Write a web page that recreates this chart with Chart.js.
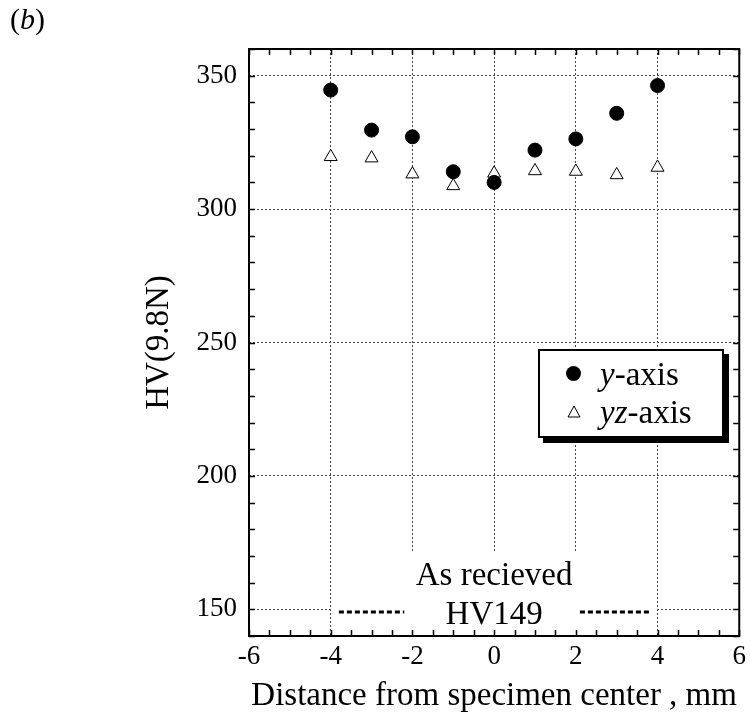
<!DOCTYPE html>
<html>
  <head>
    <meta charset="UTF-8" />
    <title>HV profile (b)</title>
    <style>
      body {
        margin: 0;
        padding: 0;
        background-color: #fff;
        font-family: "Liberation Serif", "Times New Roman", serif;
      }
      .wrap {
        position: relative;
        width: 751px;
        height: 716px;
      }
      .panel-label {
        position: absolute;
        left: 10px;
        top: 2px;
        font-size: 30px;
      }
      .legend {
        position: absolute;
        left: 538px;
        top: 349px;
        width: 182px;
        height: 85px;
        border: 2px solid #000;
        background: #fff;
        box-shadow: 5px 5px 0 #000;
        font-size: 33px;
      }
      .legend-row {
        position: absolute;
        left: 0;
        height: 38px;
        line-height: 38px;
      }
      .legend-row span.txt {
        position: absolute;
        left: 60px;
        white-space: nowrap;
      }
      .dot {
        position: absolute;
        left: 26px;
        top: 11px;
        width: 15px;
        height: 15px;
        border-radius: 50%;
        background: #000;
      }
      .tri {
        position: absolute;
        left: 27px;
        top: 12px;
      }
    </style>
  </head>
  <body>
    <div class="wrap">
      <canvas id="hvChart" width="751" height="716"></canvas>
      <div class="panel-label">(<i>b</i>)</div>
      <div class="legend">
        <div class="legend-row" style="top: 4px">
          <div class="dot"></div>
          <span class="txt"><i>y</i>-axis</span>
        </div>
        <div class="legend-row" style="top: 42px">
          <svg class="tri" width="14" height="13" viewBox="0 0 14 13">
            <polygon points="7,1 13,12 1,12" fill="#fff" stroke="#000" stroke-width="1" />
          </svg>
          <span class="txt"><i>yz</i>-axis</span>
        </div>
      </div>
    </div>

    <script src="https://cdn.jsdelivr.net/npm/chart.js"></script>
    <script>
      // distance from specimen center (mm)
      const positions = [-4, -3, -2, -1, 0, 1, 2, 3, 4];
      // hardness along y-axis
      const hvYAxis = [344.6, 329.6, 327.1, 314.0, 310.0, 322.1, 326.3, 335.9, 346.3];
      // hardness along yz-axis
      const hvYZAxis = [319.6, 319.1, 313.1, 308.7, 313.4, 314.3, 314.1, 312.8, 315.6];
      // as received level
      const asReceivedHV = 149;
      const asReceivedLeft = [-3.8, -2.2];
      const asReceivedRight = [2.1, 3.85];
      const asReceivedText = ["As recieved", "HV149"];

      const yTickValues = [150, 200, 250, 300, 350];
      const xRange = [-6, 6];
      const yRange = [140, 360];

      const serif = '"Liberation Serif", "Times New Roman", serif';

      const toPoints = (xs, ys) => xs.map((x, i) => ({ x: x, y: ys[i] }));

      // white patch behind the "As recieved" note
      const notePatch = {
        id: "notePatch",
        beforeDatasetsDraw(chart) {
          const { ctx, scales } = chart;
          const x0 = scales.x.getPixelForValue(-3.95);
          const x1 = scales.x.getPixelForValue(3.95);
          const y0 = scales.y.getPixelForValue(171.5);
          const y1 = chart.chartArea.bottom;
          ctx.save();
          ctx.fillStyle = "#fff";
          ctx.fillRect(x0, y0, x1 - x0, y1 - y0);
          ctx.restore();
        },
      };

      // frame, inward ticks and the note text
      const frameTicks = {
        id: "frameTicks",
        afterDatasetsDraw(chart) {
          const { ctx, chartArea: a, scales } = chart;
          ctx.save();
          ctx.font = "33px " + serif;
          ctx.fillStyle = "#000";
          ctx.textAlign = "center";
          ctx.textBaseline = "alphabetic";
          const cx = scales.x.getPixelForValue(0);
          ctx.fillText(asReceivedText[0], cx, 585);
          ctx.fillText(asReceivedText[1], cx, 624);

          ctx.strokeStyle = "#000";
          ctx.lineWidth = 1.5;
          const len = 6;
          ctx.beginPath();
          for (let v = xRange[0]; v <= xRange[1] + 1e-6; v += 0.5) {
            const px = Math.round(scales.x.getPixelForValue(v)) + 0.5;
            ctx.moveTo(px, a.top);
            ctx.lineTo(px, a.top + len);
            ctx.moveTo(px, a.bottom);
            ctx.lineTo(px, a.bottom - len);
          }
          for (let v = yRange[0]; v <= yRange[1] + 1e-6; v += 10) {
            const py = Math.round(scales.y.getPixelForValue(v)) + 0.5;
            ctx.moveTo(a.left, py);
            ctx.lineTo(a.left + len, py);
            ctx.moveTo(a.right, py);
            ctx.lineTo(a.right - len, py);
          }
          ctx.stroke();

          ctx.lineWidth = 2;
          ctx.strokeRect(a.left, a.top, a.right - a.left, a.bottom - a.top);
          ctx.restore();
        },
      };

      const levelLine = (xs) => ({
        label: "as received",
        data: toPoints(xs, xs.map(() => asReceivedHV)),
        showLine: true,
        borderColor: "#000",
        borderWidth: 3,
        borderDash: [5, 3],
        pointRadius: 0,
      });

      new Chart(document.getElementById("hvChart"), {
        type: "scatter",
        data: {
          datasets: [
            {
              label: "y-axis",
              data: toPoints(positions, hvYAxis),
              pointStyle: "circle",
              pointRadius: 7,
              backgroundColor: "#000",
              borderColor: "#000",
              borderWidth: 1,
            },
            {
              label: "yz-axis",
              data: toPoints(positions, hvYZAxis),
              pointStyle: "triangle",
              pointRadius: 7.5,
              backgroundColor: "#fff",
              borderColor: "#000",
              borderWidth: 1,
            },
            levelLine(asReceivedLeft),
            levelLine(asReceivedRight),
          ],
        },
        options: {
          responsive: false,
          animation: false,
          layout: { padding: { left: 0, top: 49, right: 10, bottom: 0 } },
          plugins: {
            legend: { display: false },
            tooltip: { enabled: false },
          },
          scales: {
            x: {
              type: "linear",
              min: xRange[0],
              max: xRange[1],
              afterFit(scale) {
                scale.height = 80;
              },
              ticks: {
                stepSize: 2,
                padding: 5,
                color: "#000",
                font: { family: serif, size: 27 },
              },
              grid: { color: "#444", lineWidth: 1, drawTicks: false },
              border: { display: false, dash: [2, 2] },
              title: {
                display: true,
                text: "Distance from specimen center , mm",
                color: "#000",
                font: { family: serif, size: 33 },
                padding: { top: 0, bottom: 0 },
              },
            },
            y: {
              type: "linear",
              min: yRange[0],
              max: yRange[1],
              afterFit(scale) {
                scale.width = 249;
              },
              afterBuildTicks(scale) {
                scale.ticks = yTickValues.map((v) => ({ value: v }));
              },
              ticks: {
                padding: 12,
                color: "#000",
                font: { family: serif, size: 27 },
              },
              grid: { color: "#444", lineWidth: 1, drawTicks: false },
              border: { display: false, dash: [2, 2] },
              title: {
                display: true,
                text: "HV(9.8N)",
                color: "#000",
                font: { family: serif, size: 33 },
                padding: { top: 140, bottom: 0 },
              },
            },
          },
        },
        plugins: [notePatch, frameTicks],
      });
    </script>
  </body>
</html>
